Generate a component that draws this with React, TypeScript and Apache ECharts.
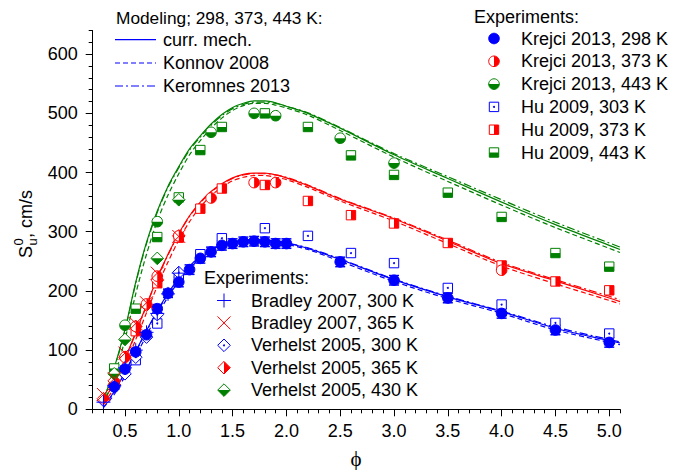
import React, { useEffect, useRef } from "react";
import * as echarts from "echarts";

// ---------- DATA ----------
const phiGrid = [0.3, 0.4, 0.5, 0.6, 0.7, 0.8, 0.9, 1.0, 1.1, 1.2, 1.3, 1.4, 1.5, 1.6, 1.7, 1.8, 1.9, 2.0, 2.2, 2.5, 3.0, 3.5, 4.0, 4.5, 5.0, 5.1];

// Modeling, 298 K (blue)
const cur298 = [5, 30, 63, 98, 133, 166, 196, 221, 242, 258, 270, 278, 283, 286, 287, 286, 284, 281, 272, 253, 219, 190, 165, 137, 116, 112];
const kon298 = [3, 25, 56, 90, 125, 159, 190, 216, 238, 255, 267, 276, 281, 284, 285, 284, 282, 279, 270, 250, 216, 187, 162, 134, 113, 109];
const ker298 = [5, 29, 62, 97, 132, 165, 195, 220, 241, 257, 269, 277, 282, 285, 286, 285, 283, 281, 273, 254, 220, 191, 166, 139, 118, 114];
// Modeling, 373 K (red)
const cur373 = [15, 45, 85, 130, 176, 222, 262, 297, 327, 350, 368, 381, 391, 397, 399, 399, 396, 391, 378, 355, 322, 284, 246, 217, 188, 182];
const kon373 = [10, 36, 74, 118, 163, 208, 249, 286, 317, 342, 361, 375, 386, 392, 395, 395, 392, 388, 375, 352, 318, 280, 242, 212, 184, 178];
const ker373 = [14, 44, 84, 129, 175, 221, 261, 296, 326, 349, 367, 380, 390, 396, 398, 398, 396, 392, 379, 356, 323, 286, 248, 219, 191, 185];
// Modeling, 443 K (green)
const cur443 = [15, 70, 135, 215, 282, 335, 377, 410, 440, 462, 482, 498, 510, 517, 521, 521, 518, 512, 500, 475, 430, 390, 350, 312, 277, 270];
const kon443 = [8, 55, 118, 195, 262, 318, 362, 398, 430, 454, 475, 492, 505, 513, 517, 517, 514, 509, 497, 471, 426, 385, 345, 307, 272, 265];
const ker443 = [14, 68, 133, 213, 280, 333, 375, 408, 438, 460, 480, 496, 508, 515, 519, 519, 517, 512, 501, 476, 432, 393, 354, 316, 281, 274];

// Experiments
const krejci298Phi = [0.4, 0.5, 0.6, 0.7, 0.8, 0.9, 1.0, 1.1, 1.2, 1.3, 1.4, 1.5, 1.6, 1.7, 1.8, 1.9, 2.0, 2.5, 3.0, 3.5, 4.0, 4.5, 5.0];
const krejci298S = [38, 68, 97, 126, 170, 196, 215, 236, 255, 266, 277, 280, 283, 284, 283, 280, 280, 249, 218, 188, 162, 134, 113];
const krejci298Err = [4, 5, 6, 6, 7, 7, 8, 8, 8, 8, 8, 8, 8, 8, 8, 8, 8, 8, 8, 8, 8, 8, 8];

const krejci373Phi = [0.5, 0.6, 0.7, 0.8, 1.0, 1.3, 1.7, 1.9, 4.0];
const krejci373S = [88, 140, 178, 225, 293, 357, 383, 383, 235];

const krejci443Phi = [0.5, 0.8, 1.3, 1.7, 1.9, 2.5, 3.0];
const krejci443S = [142, 317, 468, 500, 496, 458, 416];

const hu303Phi = [0.6, 0.8, 1.0, 1.2, 1.4, 1.8, 2.2, 2.6, 3.0, 3.5, 4.0, 4.5, 5.0];
const hu303S = [83, 145, 226, 262, 289, 306, 293, 264, 247, 205, 177, 146, 128];

const hu373Phi = [0.6, 0.8, 1.0, 1.2, 1.4, 1.8, 2.2, 2.6, 3.0, 3.5, 4.0, 4.5, 5.0];
const hu373S = [132, 213, 290, 339, 373, 379, 352, 328, 314, 281, 243, 216, 201];

const hu443Phi = [0.4, 0.6, 0.8, 1.0, 1.2, 1.4, 1.8, 2.2, 2.6, 3.0, 3.5, 4.0, 4.5, 5.0];
const hu443S = [69, 170, 291, 358, 438, 477, 500, 477, 429, 396, 366, 325, 264, 241];

const bradley300Phi = [0.3, 0.4, 0.5, 0.6, 0.7, 0.8, 0.9, 1.0];
const bradley300S = [12, 40, 70, 100, 130, 162, 195, 230];

const bradley365Phi = [0.3, 0.4, 0.5, 0.6, 0.7, 0.8, 1.0];
const bradley365S = [25, 52, 95, 145, 180, 230, 292];

const verhelst300Phi = [0.3, 0.4, 0.5, 0.6, 0.7, 0.8, 1.0];
const verhelst300S = [15, 38, 60, 88, 122, 160, 231];

const verhelst365Phi = [0.3, 0.4, 0.5, 0.6, 0.7, 0.8, 1.0];
const verhelst365S = [18, 48, 88, 140, 176, 218, 293];

const verhelst430Phi = [0.4, 0.5, 0.8, 1.0];
const verhelst430S = [60, 118, 255, 354];

const xMajorTicks = [0.5, 1.0, 1.5, 2.0, 2.5, 3.0, 3.5, 4.0, 4.5, 5.0];
const yMajorTicks = [0, 100, 200, 300, 400, 500, 600];

// ---------- STYLE ----------
const BLUE = "#0000ff";
const RED = "#ff0000";
const GREEN = "#008000";
const FONT = '"Liberation Sans", Arial, sans-serif';
const FS = 18;

type Kind =
  | "circleFill" | "circleHalfR" | "circleHalfB"
  | "squareDot" | "squareHalfR" | "squareHalfB"
  | "plus" | "cross"
  | "diamondDot" | "diamondHalfR" | "diamondHalfB";

function marker(kind: Kind, color: string, x: number, y: number): any[] {
  const W = "#ffffff";
  const r = 5.3;
  const s = 4.7;
  const d = 6.3;
  const outline = { fill: W, stroke: color, lineWidth: 1 };
  switch (kind) {
    case "circleFill":
      return [{ type: "circle", shape: { cx: x, cy: y, r }, style: { fill: color, stroke: color, lineWidth: 1 } }];
    case "circleHalfR":
      return [
        { type: "circle", shape: { cx: x, cy: y, r }, style: outline },
        { type: "sector", shape: { cx: x, cy: y, r, r0: 0, startAngle: -Math.PI / 2, endAngle: Math.PI / 2, clockwise: true }, style: { fill: color } },
      ];
    case "circleHalfB":
      return [
        { type: "circle", shape: { cx: x, cy: y, r }, style: outline },
        { type: "sector", shape: { cx: x, cy: y, r, r0: 0, startAngle: 0, endAngle: Math.PI, clockwise: true }, style: { fill: color } },
      ];
    case "squareDot":
      return [
        { type: "rect", shape: { x: x - s, y: y - s, width: 2 * s, height: 2 * s }, style: outline },
        { type: "circle", shape: { cx: x, cy: y, r: 1 }, style: { fill: color } },
      ];
    case "squareHalfR":
      return [
        { type: "rect", shape: { x: x - s, y: y - s, width: 2 * s, height: 2 * s }, style: outline },
        { type: "rect", shape: { x: x, y: y - s, width: s, height: 2 * s }, style: { fill: color } },
      ];
    case "squareHalfB":
      return [
        { type: "rect", shape: { x: x - s, y: y - s, width: 2 * s, height: 2 * s }, style: outline },
        { type: "rect", shape: { x: x - s, y: y, width: 2 * s, height: s }, style: { fill: color } },
      ];
    case "plus":
      return [
        { type: "line", shape: { x1: x - 7, y1: y, x2: x + 7, y2: y }, style: { stroke: color, lineWidth: 1 } },
        { type: "line", shape: { x1: x, y1: y - 7, x2: x, y2: y + 7 }, style: { stroke: color, lineWidth: 1 } },
      ];
    case "cross":
      return [
        { type: "line", shape: { x1: x - 6.5, y1: y - 6.5, x2: x + 6.5, y2: y + 6.5 }, style: { stroke: color, lineWidth: 1 } },
        { type: "line", shape: { x1: x - 6.5, y1: y + 6.5, x2: x + 6.5, y2: y - 6.5 }, style: { stroke: color, lineWidth: 1 } },
      ];
    case "diamondDot":
      return [
        { type: "polygon", shape: { points: [[x, y - d], [x + d, y], [x, y + d], [x - d, y]] }, style: outline },
        { type: "circle", shape: { cx: x, cy: y, r: 1 }, style: { fill: color } },
      ];
    case "diamondHalfR":
      return [
        { type: "polygon", shape: { points: [[x, y - d], [x + d, y], [x, y + d], [x - d, y]] }, style: outline },
        { type: "polygon", shape: { points: [[x, y - d], [x + d, y], [x, y + d]] }, style: { fill: color } },
      ];
    case "diamondHalfB":
      return [
        { type: "polygon", shape: { points: [[x, y - d], [x + d, y], [x, y + d], [x - d, y]] }, style: outline },
        { type: "polygon", shape: { points: [[x - d, y], [x + d, y], [x, y + d]] }, style: { fill: color } },
      ];
  }
  return [];
}

function zip(a: number[], b: number[]) {
  return a.map((v, i) => [v, b[i]]);
}

function lineSeries(vals: number[], color: string, dash: any) {
  return {
    type: "line",
    data: zip(phiGrid, vals),
    showSymbol: false,
    smooth: 0.3,
    z: 2,
    lineStyle: { color, width: 1.2, type: dash },
    silent: true,
  };
}

function markerSeries(phi: number[], s: number[], kind: Kind, color: string) {
  return {
    type: "custom",
    coordinateSystem: "cartesian2d",
    data: zip(phi, s),
    z: 4,
    silent: true,
    renderItem: (params: any, api: any) => {
      const p = api.coord([api.value(0), api.value(1)]);
      return { type: "group", children: marker(kind, color, p[0], p[1]) };
    },
  };
}

function errorSeries(phi: number[], s: number[], err: number[], color: string) {
  return {
    type: "custom",
    coordinateSystem: "cartesian2d",
    data: phi.map((v, i) => [v, s[i], err[i]]),
    z: 3,
    silent: true,
    renderItem: (params: any, api: any) => {
      const x = api.value(0), y = api.value(1), e = api.value(2);
      const lo = api.coord([x, y - e]);
      const hi = api.coord([x, y + e]);
      const st = { stroke: color, lineWidth: 1.5 };
      return {
        type: "group",
        children: [
          { type: "line", shape: { x1: lo[0], y1: lo[1], x2: hi[0], y2: hi[1] }, style: st },
          { type: "line", shape: { x1: lo[0] - 5, y1: lo[1], x2: lo[0] + 5, y2: lo[1] }, style: st },
          { type: "line", shape: { x1: hi[0] - 5, y1: hi[1], x2: hi[0] + 5, y2: hi[1] }, style: st },
        ],
      };
    },
  };
}

function txt(text: string, x: number, y: number, align = "left", size = FS, family = FONT) {
  return {
    type: "text",
    x,
    y,
    silent: true,
    style: {
      text,
      fill: "#000",
      font: `${size}px ${family}`,
      fontSize: size,
      fontFamily: family,
      align,
      verticalAlign: "middle",
      textAlign: align,
      textVerticalAlign: "middle",
    },
  };
}

export default function App() {
  const ref = useRef<HTMLDivElement>(null);
  useEffect(() => {
    if (!ref.current) return;
    const chart = echarts.init(ref.current, null, { renderer: "svg" });

    const DASH = [5, 3];
    const DASHDOT = [8, 3, 2, 3];

    const graphics: any[] = [];
    // Modeling legend
    graphics.push(txt("Modeling; 298, 373, 443 K:", 116, 18, "left", 17.3));
    graphics.push({
      type: "rect", silent: true,
      shape: { x: 115, y: 39, width: 41, height: 1.2 },
      style: { fill: BLUE, stroke: null },
    });
    graphics.push(txt("curr. mech.", 163, 39.5));
    graphics.push({
      type: "line", silent: true,
      shape: { x1: 115, y1: 63, x2: 156, y2: 63 },
      style: { stroke: BLUE, lineWidth: 1.2, lineDash: DASH },
    });
    graphics.push(txt("Konnov 2008", 163, 63));
    graphics.push({
      type: "line", silent: true,
      shape: { x1: 115, y1: 86, x2: 156, y2: 86 },
      style: { stroke: BLUE, lineWidth: 1.2, lineDash: DASHDOT },
    });
    graphics.push(txt("Keromnes 2013", 163, 86));

    // Experiments legend (top right)
    graphics.push(txt("Experiments:", 474, 17));
    const expLeg1: [string, Kind, string][] = [
      ["Krejci 2013, 298 K", "circleFill", BLUE],
      ["Krejci 2013, 373 K", "circleHalfR", RED],
      ["Krejci 2013, 443 K", "circleHalfB", GREEN],
      ["Hu 2009, 303 K", "squareDot", BLUE],
      ["Hu 2009, 373 K", "squareHalfR", RED],
      ["Hu 2009, 443 K", "squareHalfB", GREEN],
    ];
    expLeg1.forEach(([label, kind, color], i) => {
      const y = 38.5 + i * 22.8;
      graphics.push({ type: "group", silent: true, children: marker(kind, color, 494, y) });
      graphics.push(txt(label, 521, y));
    });

    // Experiments legend (bottom)
    graphics.push(txt("Experiments:", 204, 278));
    const expLeg2: [string, Kind, string][] = [
      ["Bradley 2007, 300 K", "plus", BLUE],
      ["Bradley 2007, 365 K", "cross", RED],
      ["Verhelst 2005, 300 K", "diamondDot", BLUE],
      ["Verhelst 2005, 365 K", "diamondHalfR", RED],
      ["Verhelst 2005, 430 K", "diamondHalfB", GREEN],
    ];
    expLeg2.forEach(([label, kind, color], i) => {
      const y = 300.5 + i * 22.4;
      graphics.push({ type: "group", silent: true, children: marker(kind, color, 224, y) });
      graphics.push(txt(label, 251, y));
    });

    // Axis names
    graphics.push(txt("ϕ", 356, 459, "center", 21, '"Liberation Serif", "DejaVu Serif", serif'));
    graphics.push({
      type: "group",
      x: 26,
      y: 258,
      rotation: Math.PI / 2,
      silent: true,
      children: [
        txt("S", 0, 0, "left", FS),
        txt("0", 12.5, -7.5, "left", 13),
        txt("u", 12.5, 6.5, "left", 13),
        txt(", cm/s", 20, 0, "left", FS),
      ],
    });

    const axisLabelStyle = { color: "#000", fontSize: FS, fontFamily: FONT };

    chart.setOption({
      animation: false,
      grid: { left: 92.7, right: 54, top: 30.5, bottom: 60.7, containLabel: false },
      xAxis: [
        {
          type: "value", min: 0.2, max: 5.1, interval: 0.1, position: "bottom",
          axisLine: { show: true, onZero: false, lineStyle: { color: "#000", width: 1 } },
          axisTick: { show: true, length: 4, lineStyle: { color: "#000", width: 1 } },
          axisLabel: { show: false },
          splitLine: { show: false },
        },
        {
          type: "value", min: 0.2, max: 5.1, position: "bottom",
          axisLine: { show: false, onZero: false },
          axisTick: { show: true, length: 7, customValues: xMajorTicks, lineStyle: { color: "#000", width: 1 } },
          axisLabel: { show: true, customValues: xMajorTicks, margin: 13, formatter: (v: number) => v.toFixed(1), ...axisLabelStyle },
          splitLine: { show: false },
        },
      ],
      yAxis: [
        {
          type: "value", min: 0, max: 640, interval: 20, position: "left",
          axisLine: { show: true, onZero: false, lineStyle: { color: "#000", width: 1 } },
          axisTick: { show: true, length: 4, lineStyle: { color: "#000", width: 1 } },
          axisLabel: { show: false },
          splitLine: { show: false },
        },
        {
          type: "value", min: 0, max: 640, position: "left",
          axisLine: { show: false, onZero: false },
          axisTick: { show: true, length: 7, customValues: yMajorTicks, lineStyle: { color: "#000", width: 1 } },
          axisLabel: { show: true, customValues: yMajorTicks, margin: 15, ...axisLabelStyle },
          splitLine: { show: false },
        },
      ],
      graphic: graphics,
      series: [
        lineSeries(cur298, BLUE, "solid"),
        lineSeries(kon298, BLUE, DASH),
        lineSeries(ker298, BLUE, DASHDOT),
        lineSeries(cur373, RED, "solid"),
        lineSeries(kon373, RED, DASH),
        lineSeries(ker373, RED, DASHDOT),
        lineSeries(cur443, GREEN, "solid"),
        lineSeries(kon443, GREEN, DASH),
        lineSeries(ker443, GREEN, DASHDOT),
        errorSeries(krejci298Phi, krejci298S, krejci298Err, BLUE),
        markerSeries(hu303Phi, hu303S, "squareDot", BLUE),
        markerSeries(hu373Phi, hu373S, "squareHalfR", RED),
        markerSeries(hu443Phi, hu443S, "squareHalfB", GREEN),
        markerSeries(verhelst300Phi, verhelst300S, "diamondDot", BLUE),
        markerSeries(verhelst365Phi, verhelst365S, "diamondHalfR", RED),
        markerSeries(verhelst430Phi, verhelst430S, "diamondHalfB", GREEN),
        markerSeries(krejci298Phi, krejci298S, "circleFill", BLUE),
        markerSeries(krejci373Phi, krejci373S, "circleHalfR", RED),
        markerSeries(krejci443Phi, krejci443S, "circleHalfB", GREEN),
        markerSeries(bradley300Phi, bradley300S, "plus", BLUE),
        markerSeries(bradley365Phi, bradley365S, "cross", RED),
      ],
    });
    return () => chart.dispose();
  }, []);

  return (
    <div
      ref={ref}
      style={{ position: "fixed", left: 0, top: 0, width: 674, height: 470, background: "#fff" }}
    />
  );
}
